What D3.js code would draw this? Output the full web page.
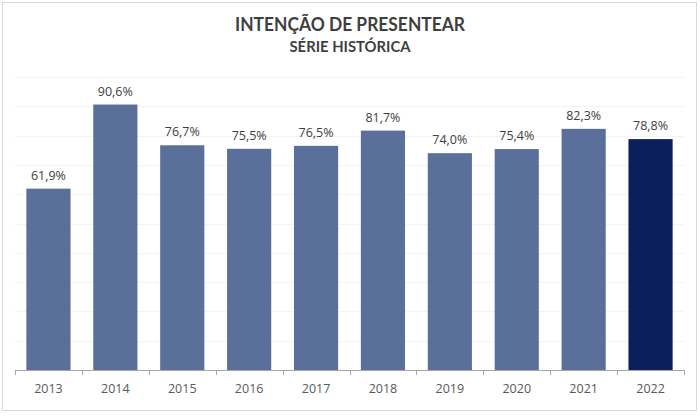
<!DOCTYPE html>
<html><head><meta charset="utf-8">
<script src="https://cdn.jsdelivr.net/npm/d3@7"></script>
<style>body{margin:0;background:#fff}svg{display:block}</style>
</head><body><svg id="c" width="700" height="420"></svg>
<script>
const years = ["2013","2014","2015","2016","2017","2018","2019","2020","2021","2022"];
const values = [61.9,90.6,76.7,75.5,76.5,81.7,74.0,75.4,82.3,78.8];
const gridTicks = [0,10,20,30,40,50,60,70,80,90,100];
const title = "INTENÇÃO DE PRESENTEAR";
const subtitle = "SÉRIE HISTÓRICA";

const svg = d3.select("#c");
svg.append("rect").attr("x",2.5).attr("y",2.5).attr("width",694).attr("height",408)
  .attr("fill","#fff").attr("stroke","#d9d9d9");

const m = {left:15, right:684, top:77, bottom:370};
const x = d3.scaleBand().domain(years).range([m.left,m.right]).paddingInner(0.34).paddingOuter(0.17);
const y = d3.scaleLinear().domain([0,100]).range([m.bottom,m.top]);

svg.append("g").selectAll("line").data(gridTicks.slice(1)).join("line")
  .attr("x1",m.left).attr("x2",m.right)
  .attr("y1",d=>Math.round(y(d))+0.5).attr("y2",d=>Math.round(y(d))+0.5)
  .attr("stroke","#f3f3f3");

svg.append("g").selectAll("rect").data(values).join("rect")
  .attr("x",(d,i)=>x(years[i])).attr("width",x.bandwidth())
  .attr("y",d=>y(d)).attr("height",d=>y(0)-y(d))
  .attr("fill",(d,i)=>i===values.length-1?"#0b1f5c":"#5a6f9a");

svg.append("g").selectAll("text").data(values).join("text")
  .attr("x",(d,i)=>x(years[i])+x.bandwidth()/2).attr("y",d=>y(d)-9)
  .attr("text-anchor","middle").attr("font-family","'Open Sans',sans-serif").attr("font-size",12.5)
  .attr("fill","#404040").text(d=>d.toFixed(1).replace(".",",")+"%");

// axis
const ax = svg.append("g");
ax.append("line").attr("x1",m.left).attr("x2",m.right).attr("y1",m.bottom+0.5).attr("y2",m.bottom+0.5).attr("stroke","#a6a6a6");
const bounds = d3.range(years.length+1).map(i=>m.left+i*(m.right-m.left)/years.length);
ax.selectAll("line.t").data(bounds).join("line").attr("class","t")
  .attr("x1",d=>Math.round(d)+0.5).attr("x2",d=>Math.round(d)+0.5).attr("y1",m.bottom).attr("y2",m.bottom+5).attr("stroke","#a6a6a6");
ax.selectAll("text").data(years).join("text")
  .attr("x",d=>x(d)+x.bandwidth()/2).attr("y",393).attr("text-anchor","middle")
  .attr("font-family","'Open Sans',sans-serif").attr("font-size",12.5).attr("fill","#595959").text(d=>d);

svg.append("text").attr("x",350).attr("y",31).attr("text-anchor","middle")
  .attr("font-family","Lato,sans-serif").attr("font-weight","bold").attr("font-size",19).attr("fill","#3f3f3f")
  .attr("textLength",230).attr("lengthAdjust","spacingAndGlyphs").text(title);
svg.append("text").attr("x",350).attr("y",52).attr("text-anchor","middle")
  .attr("font-family","Lato,sans-serif").attr("font-weight","bold").attr("font-size",14.5).attr("fill","#3f3f3f")
  .attr("textLength",121).attr("lengthAdjust","spacingAndGlyphs").text(subtitle);
</script></body></html>
